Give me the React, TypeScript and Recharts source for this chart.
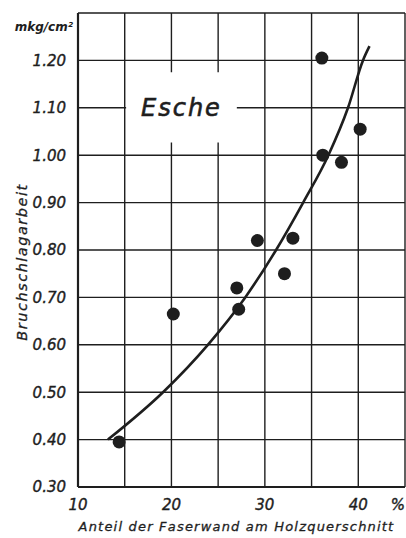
import React from 'react';
import {
  ComposedChart,
  Line,
  Scatter,
  XAxis,
  YAxis,
  CartesianGrid,
  ReferenceArea,
} from 'recharts';

// Measured points: Anteil der Faserwand (%) vs Bruchschlagarbeit (mkg/cm²)
const pointX = [14.4, 20.2, 27.0, 27.2, 29.2, 32.1, 33.0, 36.2, 36.1, 38.2, 40.2];
const pointY = [0.395, 0.665, 0.72, 0.675, 0.82, 0.75, 0.825, 1.0, 1.205, 0.985, 1.055];

// Fitted curve
const curveX = [13.2, 19.1, 23.9, 27.9, 31.2, 34.1, 36.8, 38.9, 40.5, 41.2];
const curveY = [0.4, 0.5, 0.6, 0.7, 0.8, 0.9, 1.0, 1.1, 1.2, 1.23];

const xTicks = [10, 15, 20, 25, 30, 35, 40, 45];
const xTickLabels = ['10', '', '20', '', '30', '', '40', '%'];
const yTicks = [0.3, 0.4, 0.5, 0.6, 0.7, 0.8, 0.9, 1.0, 1.1, 1.2, 1.3];
const yTickLabels = ['0.30', '0.40', '0.50', '0.60', '0.70', '0.80', '0.90', '1.00', '1.10', '1.20', 'mkg/cm²'];

const title = 'Esche';
const xTitle = 'Anteil der Faserwand am Holzquerschnitt';
const yTitle = 'Bruchschlagarbeit';

const points = pointX.map((x, i) => ({ x, y: pointY[i] }));
const curve = curveX.map((x, i) => ({ x, y: curveY[i] }));

const FONT = '"DejaVu Sans", sans-serif';
const INK = '#1e1e1e';

const YTick = (props: any) => {
  const { x, y, index } = props;
  const label = yTickLabels[index] ?? '';
  const isUnit = index === yTicks.length - 1;
  return (
    <text
      x={isUnit ? x + 7 : x}
      y={isUnit ? y + 14 : y}
      dy="0.36em"
      textAnchor="end"
      fontFamily={FONT}
      fontStyle="italic"
      fontSize={isUnit ? 12 : 15}
      fontWeight={isUnit ? 'bold' : 'normal'}
      fill={INK}
      stroke={INK}
      strokeWidth={isUnit ? 0 : 0.4}
    >
      {label}
    </text>
  );
};

const XTick = (props: any) => {
  const { x, y, index } = props;
  const label = xTickLabels[index] ?? '';
  const isLast = index === xTicks.length - 1;
  return (
    <text
      x={x}
      y={y}
      dy="0.71em"
      textAnchor={isLast ? 'end' : 'middle'}
      fontFamily={FONT}
      fontStyle="italic"
      fontSize={15}
      fill={INK}
      stroke={INK}
      strokeWidth={0.4}
    >
      {label}
    </text>
  );
};

const Dot = (props: any) => {
  const { cx, cy } = props;
  if (cx == null || cy == null) return null;
  return <circle cx={cx} cy={cy} r={6.5} fill={INK} />;
};

export default function App() {
  return (
    <div style={{ position: 'absolute', left: 0, top: 0, background: '#fff' }}>
      <ComposedChart
        width={406}
        height={538}
        margin={{ top: 13, right: 1, bottom: 0, left: 0 }}
      >
        <CartesianGrid stroke={INK} strokeWidth={1.4} />
        <XAxis
          type="number"
          dataKey="x"
          domain={[10, 45]}
          ticks={xTicks}
          interval={0}
          allowDataOverflow
          height={51}
          tickSize={0}
          tickMargin={12}
          tickLine={false}
          axisLine={{ stroke: INK, strokeWidth: 2.2 }}
          tick={<XTick />}
          label={{
            content: (p: any) => {
              const vb = p.viewBox || {};
              return (
                <text
                  x={(vb.x ?? 78) + (vb.width ?? 327) / 2 - 5}
                  y={(vb.y ?? 487) + 44}
                  textAnchor="middle"
                  fontFamily={FONT}
                  fontStyle="italic"
                  fontSize={13}
                  letterSpacing={1.2}
                  fill={INK}
                  stroke={INK}
                  strokeWidth={0.3}
                >
                  {xTitle}
                </text>
              );
            },
          }}
        />
        <YAxis
          type="number"
          dataKey="y"
          domain={[0.3, 1.3]}
          ticks={yTicks}
          interval={0}
          allowDataOverflow
          width={78}
          tickSize={0}
          tickMargin={12}
          tickLine={false}
          axisLine={{ stroke: INK, strokeWidth: 2.2 }}
          tick={<YTick />}
          label={{
            content: (p: any) => {
              const vb = p.viewBox || {};
              const cx = (vb.x ?? 0) + 22;
              const cy = (vb.y ?? 13) + (vb.height ?? 474) / 2 + 12;
              return (
                <text
                  x={cx}
                  y={cy}
                  dy="0.36em"
                  transform={`rotate(-90, ${cx}, ${cy})`}
                  textAnchor="middle"
                  fontFamily={FONT}
                  fontStyle="italic"
                  fontSize={14.5}
                  letterSpacing={1.5}
                  fill={INK}
                  stroke={INK}
                  strokeWidth={0.3}
                >
                  {yTitle}
                </text>
              );
            },
          }}
        />
        <ReferenceArea
          x1={15.15}
          x2={27}
          y1={1.027}
          y2={1.175}
          fill="#ffffff"
          fillOpacity={1}
          stroke="none"
          label={{
            value: title,
            position: 'center',
            fontFamily: FONT,
            fontStyle: 'italic',
            fontSize: 24,
            letterSpacing: 2,
            fill: INK,
            stroke: INK,
            strokeWidth: 0.6,
          }}
        />
        <Line
          data={curve}
          dataKey="y"
          type="monotone"
          stroke={INK}
          strokeWidth={2.6}
          dot={false}
          activeDot={false}
          isAnimationActive={false}
        />
        <Scatter
          data={points}
          dataKey="y"
          shape={<Dot />}
          isAnimationActive={false}
        />
      </ComposedChart>
    </div>
  );
}
